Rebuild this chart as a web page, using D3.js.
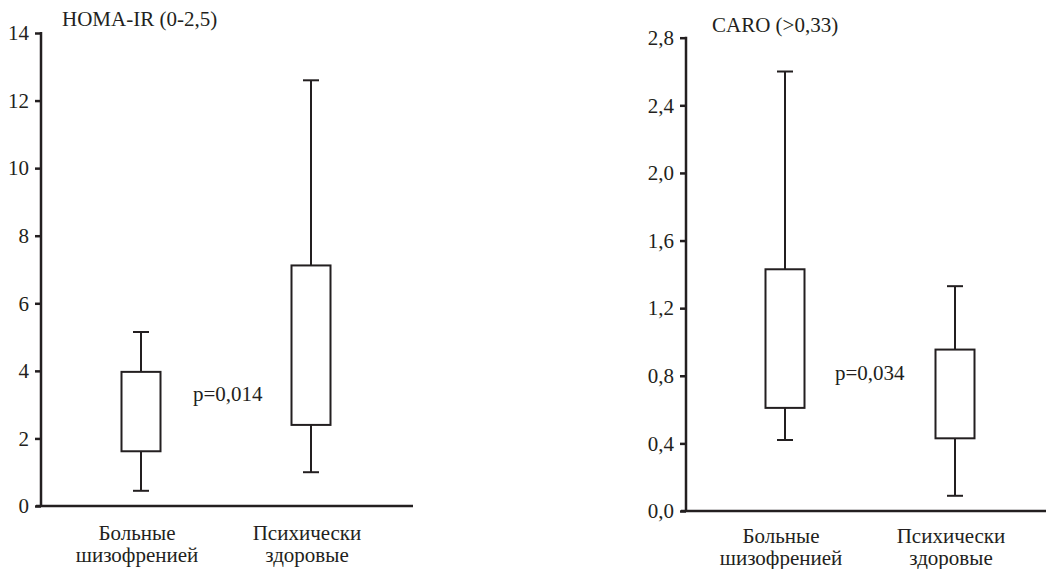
<!DOCTYPE html>
<html>
<head>
<meta charset="utf-8">
<script src="https://cdn.jsdelivr.net/npm/d3@7"></script>
<style>
  body { margin: 0; background: #fff; }
  svg { display: block; }
</style>
</head>
<body>
<div id="chart"></div>
<script>
const categories = [["Больные", "шизофренией"], ["Психически", "здоровые"]]

// HOMA-IR: [lower whisker, q1, q3, upper whisker]
const homaTitle = "HOMA-IR (0-2,5)"
const homaTicks = [0, 2, 4, 6, 8, 10, 12, 14]
const homaBoxes = [[0.45, 1.62, 3.97, 5.15], [1.0, 2.4, 7.12, 12.6]]
const homaP = "p=0,014"

// CARO
const caroTitle = "CARO (>0,33)"
const caroTicks = [0, 0.4, 0.8, 1.2, 1.6, 2.0, 2.4, 2.8]
const caroBoxes = [[0.42, 0.61, 1.43, 2.6], [0.09, 0.43, 0.955, 1.33]]
const caroP = "p=0,034"

const COLOR = "#231f20"
const FONT = "'Liberation Serif', 'Times New Roman', serif"
const FS = 21
let width = 1046, height = 569;

let svg = d3.select("#chart").append("svg").attr("width", width).attr("height", height);

const panels = [
    { title: homaTitle, ticks: homaTicks, boxes: homaBoxes, p: homaP, fmt: d3.format("d"),
      axisX: 41, axisEnd: 413, y0: 506, y1: 33, max: 14, centers: [141, 311],
      titleX: 62, titleY: 26, pX: 193, pY: 401, labY: 540 },
    { title: caroTitle, ticks: caroTicks, boxes: caroBoxes, p: caroP, fmt: v => d3.format(".1f")(v).replace(".", ","),
      axisX: 686, axisEnd: 1046, y0: 511, y1: 37.7, max: 2.8, centers: [785, 955],
      titleX: 712, titleY: 32, pX: 835, pY: 380, labY: 543 }
]

function serif(sel) {
    return sel.style("font-family", FONT).style("font-size", FS + "px").style("fill", COLOR);
}

panels.forEach(function (pn) {
    let y = d3.scaleLinear().domain([0, pn.max]).range([pn.y0, pn.y1]);
    let x = d3.scalePoint().domain([0, 1]).range(pn.centers);
    let g = svg.append("g");

    // y axis
    let ax = g.append("g").attr("transform", "translate(" + pn.axisX + ",0)")
        .call(d3.axisLeft(y).tickValues(pn.ticks).tickFormat(pn.fmt).tickSize(6).tickPadding(6));
    ax.attr("font-family", null).attr("font-size", null);
    ax.select(".domain").remove();
    ax.selectAll("line").attr("stroke", COLOR).attr("stroke-width", 2.5);
    serif(ax.selectAll("text"));
    g.append("line").attr("x1", pn.axisX).attr("x2", pn.axisX)
        .attr("y1", y(pn.max) - 1).attr("y2", y(0))
        .attr("stroke", COLOR).attr("stroke-width", 2.5);

    // x axis line
    g.append("line").attr("x1", pn.axisX - 5).attr("x2", pn.axisEnd)
        .attr("y1", y(0)).attr("y2", y(0))
        .attr("stroke", COLOR).attr("stroke-width", 2.5);

    // boxes
    let bw = 39, cw = 16;
    let b = g.selectAll(".box").data(pn.boxes).join("g").attr("class", "box");
    b.append("line")
        .attr("x1", (d, i) => x(i)).attr("x2", (d, i) => x(i))
        .attr("y1", d => y(d[0])).attr("y2", d => y(d[3]))
        .attr("stroke", COLOR).attr("stroke-width", 2);
    b.append("line")
        .attr("x1", (d, i) => x(i) - cw / 2).attr("x2", (d, i) => x(i) + cw / 2)
        .attr("y1", d => y(d[0])).attr("y2", d => y(d[0]))
        .attr("stroke", COLOR).attr("stroke-width", 2);
    b.append("line")
        .attr("x1", (d, i) => x(i) - cw / 2).attr("x2", (d, i) => x(i) + cw / 2)
        .attr("y1", d => y(d[3])).attr("y2", d => y(d[3]))
        .attr("stroke", COLOR).attr("stroke-width", 2);
    b.append("rect")
        .attr("x", (d, i) => x(i) - bw / 2).attr("width", bw)
        .attr("y", d => y(d[2])).attr("height", d => y(d[1]) - y(d[2]))
        .attr("fill", "#fff").attr("stroke", COLOR).attr("stroke-width", 2);

    // title and p value
    serif(g.append("text").attr("x", pn.titleX).attr("y", pn.titleY)).text(pn.title);
    serif(g.append("text").attr("x", pn.pX).attr("y", pn.pY)).text(pn.p);

    // category labels
    categories.forEach(function (lines, i) {
        serif(g.append("text").attr("x", x(i) - 4).attr("y", pn.labY))
            .attr("text-anchor", "middle")
            .selectAll("tspan").data(lines).join("tspan")
            .attr("x", x(i) - 4).attr("dy", (d, j) => j === 0 ? 0 : 22)
            .text(d => d);
    });
});
</script>
</body>
</html>
